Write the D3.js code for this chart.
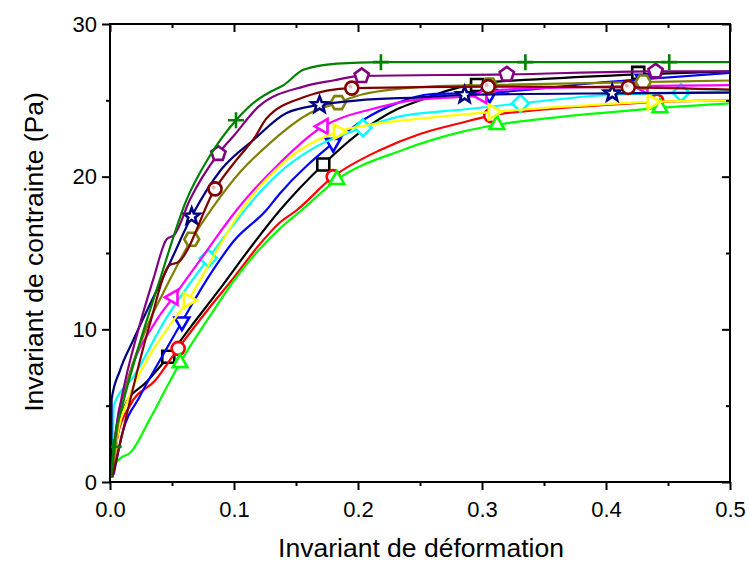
<!DOCTYPE html>
<html><head><meta charset="utf-8">
<script src="https://cdn.jsdelivr.net/npm/d3@7/dist/d3.min.js"></script>
<style>
body{margin:0;background:#fff;}
text{font-family:"Liberation Sans",Arial,sans-serif;fill:#000;}
</style></head>
<body><svg id="c" width="749" height="562"></svg>
<script>
const xTicks=[0,0.1,0.2,0.3,0.4,0.5];
const xMinor=[0.05,0.15,0.25,0.35,0.45];
const yTicks=[0,10,20,30];
const yMinor=[5,15,25];
const xLabel="Invariant de déformation";
const yLabel="Invariant de contrainte (Pa)";

const names=["black","red","lime","blue","cyan","magenta","yellow","olive","navy","purple","wine","green"];
const colors=["#000000","#FF0000","#00FF00","#0000FF","#00FFFF","#FF00FF","#FFFF00","#808000","#000080","#800080","#800000","#008000"];
const symbols=["square","circle","triUp","triDown","diamond","triLeft","triRight","hexagon","star","pentagon","sphere","plus"];

const blackPts=[[0.002,0.4],[0.006,3.0],[0.012,5.0],[0.03,6.6],[0.047,8.2],[0.0645,10.1],[0.09,12.8],[0.11,15.0],[0.137,17.8],[0.172,20.8],[0.2,22.8],[0.231,24.4],[0.25,25.0],[0.275,25.7],[0.296,26.1],[0.35,26.4],[0.426,26.7],[0.5,26.9]];
const blackMk=[[0.047,8.2],[0.172,20.8],[0.296,26.0],[0.426,26.8]];
const redPts=[[0.002,0.3],[0.006,3.0],[0.016,5.0],[0.037,6.7],[0.055,8.75],[0.08,11.4],[0.1,13.4],[0.12,15.5],[0.137,17.0],[0.1505,17.8],[0.18,20.0],[0.218,21.75],[0.25,22.8],[0.282,23.5],[0.307,24.0],[0.35,24.4],[0.4,24.7],[0.441,24.9],[0.5,25.0]];
const redMk=[[0.055,8.75],[0.18,20.0],[0.307,24.0],[0.441,24.95]];
const limePts=[[0.005,1.3],[0.009,1.6],[0.016,1.9],[0.032,4.1],[0.0457,6.2],[0.0565,7.8],[0.08,10.8],[0.1,13.2],[0.12,15.2],[0.137,16.6],[0.1545,17.8],[0.183,19.8],[0.236,21.75],[0.282,22.9],[0.312,23.4],[0.35,23.8],[0.4,24.2],[0.4435,24.5],[0.5,24.8]];
const limeMk=[[0.0565,7.8],[0.183,19.8],[0.312,23.4],[0.4435,24.5]];
const bluePts=[[0.003,0.5],[0.01,3.2],[0.024,5.6],[0.039,7.8],[0.058,10.5],[0.08,13.5],[0.1,15.8],[0.126,17.8],[0.137,18.9],[0.18,22.2],[0.204,23.7],[0.231,24.8],[0.258,25.4],[0.306,25.5],[0.4,26.2],[0.5,26.8]];
const blueMk=[[0.058,10.5],[0.18,22.2],[0.306,25.4],[0.43,26.4]];
const cyanPts=[[0.002,0.5],[0.003,5.0],[0.019,6.9],[0.0444,10.6],[0.0793,14.65],[0.1,16.9],[0.12,18.9],[0.14,20.5],[0.167,22.0],[0.204,23.2],[0.231,23.9],[0.285,24.4],[0.331,24.8],[0.392,25.3],[0.4605,25.5],[0.5,25.6]];
const cyanMk=[[0.0793,14.65],[0.204,23.2],[0.331,24.8],[0.4605,25.5]];
const magentaPts=[[0.002,0.3],[0.005,3.5],[0.012,6.0],[0.0376,10.6],[0.051,12.1],[0.075,14.8],[0.102,17.8],[0.137,20.9],[0.172,23.3],[0.185,23.8],[0.21,24.4],[0.236,24.9],[0.277,25.2],[0.3,25.3],[0.317,25.7],[0.4,25.9],[0.5,26.0]];
const magentaMk=[[0.051,12.1],[0.172,23.3],[0.3,25.3],[0.43,25.9]];
const yellowPts=[[0.002,0.3],[0.006,3.0],[0.015,5.5],[0.03,8.0],[0.045,9.9],[0.063,11.9],[0.085,15.0],[0.106,17.8],[0.1425,21.1],[0.184,22.95],[0.21,23.4],[0.25,23.8],[0.309,24.25],[0.37,24.6],[0.437,24.9],[0.5,25.0]];
const yellowMk=[[0.063,11.9],[0.184,22.95],[0.309,24.25],[0.437,24.9]];
const olivePts=[[0.002,0.3],[0.006,3.5],[0.013,6.2],[0.03,10.2],[0.043,12.4],[0.0659,15.9],[0.083,18.0],[0.105,20.3],[0.129,22.2],[0.161,24.15],[0.184,24.85],[0.204,25.4],[0.258,25.9],[0.306,26.0],[0.43,26.2],[0.5,26.3]];
const oliveMk=[[0.0659,15.9],[0.184,24.85],[0.306,26.0],[0.43,26.2]];
const navyPts=[[0.001,0.3],[0.0013,5.4],[0.008,7.3],[0.0188,9.3],[0.048,14.3],[0.0659,17.4],[0.09,20.5],[0.1156,22.4],[0.142,24.15],[0.169,24.7],[0.2,25.0],[0.25,25.2],[0.286,25.35],[0.405,25.46],[0.5,25.5]];
const navyMk=[[0.0659,17.4],[0.169,24.7],[0.286,25.35],[0.405,25.46]];
const purplePts=[[0.001,0.3],[0.005,3.5],[0.012,6.5],[0.024,10.3],[0.035,13.3],[0.0457,15.9],[0.052,16.2],[0.0645,18.5],[0.0874,21.5],[0.1,22.7],[0.12,24.6],[0.156,25.9],[0.18,26.3],[0.203,26.6],[0.32,26.7],[0.44,26.9],[0.5,26.9]];
const purpleMk=[[0.0874,21.5],[0.203,26.6],[0.32,26.7],[0.44,26.9]];
const winePts=[[0.002,0.35],[0.032,10.3],[0.048,14.2],[0.055,14.4],[0.0847,19.2],[0.102,21.1],[0.117,22.6],[0.126,23.8],[0.156,25.2],[0.195,25.8],[0.305,25.9],[0.418,25.85],[0.5,25.7]];
const wineMk=[[0.0847,19.2],[0.195,25.8],[0.305,25.9],[0.418,25.85]];
const greenPts=[[0.001,0.3],[0.003,2.3],[0.01,5.0],[0.02,8.0],[0.04,13.2],[0.0618,18.5],[0.08,21.3],[0.1016,23.7],[0.12,25.1],[0.128,25.5],[0.14,26.0],[0.156,27.0],[0.183,27.4],[0.2185,27.5],[0.335,27.5],[0.451,27.5],[0.5,27.5]];
const greenMk=[[0.003,2.3],[0.1016,23.7],[0.2185,27.5],[0.335,27.5],[0.451,27.5]];

const allPts=[blackPts,redPts,limePts,bluePts,cyanPts,magentaPts,yellowPts,olivePts,navyPts,purplePts,winePts,greenPts];
const allMk=[blackMk,redMk,limeMk,blueMk,cyanMk,magentaMk,yellowMk,oliveMk,navyMk,purpleMk,wineMk,greenMk];

const L=110,R=730,T=24,B=482;
const svg=d3.select("#c");
const x=d3.scaleLinear().domain([0,0.5]).range([L,R]);
const y=d3.scaleLinear().domain([0,30]).range([B,T]);

const plot=svg.append("g");
plot.append("clipPath").attr("id","clip").append("rect").attr("x",L).attr("y",T-12).attr("width",R-L).attr("height",B-T+12);

function poly(n,r,rot){const p=[];for(let i=0;i<n;i++){const a=rot+i*2*Math.PI/n;p.push([r*Math.cos(a),r*Math.sin(a)]);}return "M"+p.map(d=>d.join(",")).join("L")+"Z";}
function star(ro,ri){const p=[];for(let i=0;i<10;i++){const r=i%2?ri:ro;const a=-Math.PI/2+i*Math.PI/5;p.push([r*Math.cos(a),r*Math.sin(a)]);}return "M"+p.map(d=>d.join(",")).join("L")+"Z";}
const shapes={
 square:"M-6,-6H6V6H-6Z",
 circle:d3.arc()({innerRadius:0,outerRadius:6.5,startAngle:0,endAngle:2*Math.PI}),
 sphere:d3.arc()({innerRadius:0,outerRadius:6.5,startAngle:0,endAngle:2*Math.PI}),
 triUp:poly(3,8.5,-Math.PI/2),
 triDown:poly(3,8.5,Math.PI/2),
 triLeft:poly(3,8.5,Math.PI),
 triRight:poly(3,8.5,0),
 diamond:"M0,-8.5L8.5,0L0,8.5L-8.5,0Z",
 hexagon:poly(6,7.5,0),
 pentagon:poly(5,7.5,-Math.PI/2),
 star:star(8.5,3.6),
 plus:"M-8,0H8M0,-8V8"
};

const line=d3.line().x(d=>x(d[0])).y(d=>y(d[1])).curve(d3.curveMonotoneX);
allPts.forEach((pts,i)=>{
  const g=plot.append("g").attr("clip-path","url(#clip)");
  g.append("path").attr("d",line(pts)).attr("fill","none").attr("stroke",colors[i]).attr("stroke-width",2.2).attr("stroke-linejoin","round");
  const s=symbols[i];
  const m=g.selectAll("g.m").data(allMk[i]).enter().append("g").attr("transform",d=>`translate(${x(d[0])},${y(d[1])})`);
  m.append("path").attr("d",shapes[s]).attr("fill",s==="plus"?"none":"#fff").attr("stroke",colors[i]).attr("stroke-width",2.6).attr("stroke-linejoin","miter");
  if(s==="sphere") m.append("circle").attr("cx",-1.5).attr("cy",-1.5).attr("r",2).attr("fill","#e6b8b8");
  if(s==="star") m.append("circle").attr("r",0.8).attr("fill","#fff");
});

function addAxis(gen,ticks,size,labels,transform,pad){
  const a=svg.append("g").attr("transform",transform).call(gen.tickValues(ticks).tickSize(size).tickSizeOuter(0).tickPadding(pad||5).tickFormat(labels?labels:()=>""));
  a.select(".domain").remove();
  a.selectAll("line").attr("stroke","#000").attr("stroke-width",2);
  a.selectAll("text").attr("font-size",22).attr("font-family","'Liberation Sans',Arial,sans-serif").attr("fill","#000");
  return a;
}
addAxis(d3.axisBottom(x),xTicks,8,d3.format(".1f"),`translate(0,${B})`,11);
addAxis(d3.axisBottom(x),xMinor,4,null,`translate(0,${B})`);
addAxis(d3.axisTop(x),xTicks,-8,null,`translate(0,${T})`);
addAxis(d3.axisTop(x),xMinor,-4,null,`translate(0,${T})`);
addAxis(d3.axisLeft(y),yTicks,8,d3.format("d"),`translate(${L},0)`,5);
addAxis(d3.axisLeft(y),yMinor,4,null,`translate(${L},0)`);
addAxis(d3.axisRight(y),yTicks,-8,null,`translate(${R},0)`);
addAxis(d3.axisRight(y),yMinor,-4,null,`translate(${R},0)`);
svg.append("rect").attr("x",L).attr("y",T).attr("width",R-L).attr("height",B-T).attr("fill","none").attr("stroke","#000").attr("stroke-width",2);

svg.append("text").attr("x",421).attr("y",557).attr("text-anchor","middle").attr("font-size",26.5).text(xLabel);
svg.append("text").attr("transform",`translate(43,${252}) rotate(-90)`).attr("text-anchor","middle").attr("font-size",26.5).text(yLabel);
</script></body></html>
